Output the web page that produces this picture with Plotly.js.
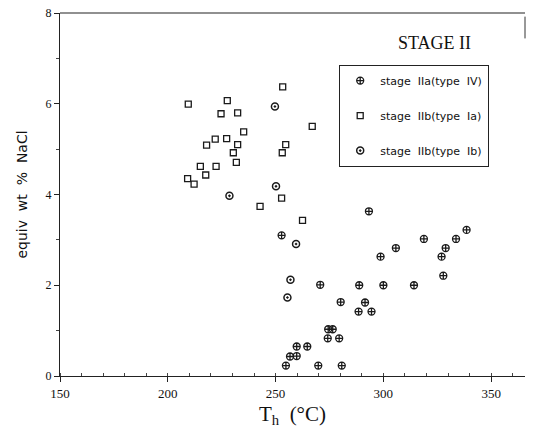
<!DOCTYPE html>
<html><head><meta charset="utf-8">
<script src="https://cdn.plot.ly/plotly-3.0.1.min.js"></script>
<style>body{margin:0;background:#fff}#c{width:535px;height:428px}</style>
</head><body><div id="c"></div>
<script>
// stage IIa (type IV)
const ivX = [252.8, 293.3, 338.6, 318.8, 333.7, 305.8, 328.9, 298.7, 327.0, 327.8, 270.7, 288.8, 300.0, 314.2, 280.2, 288.5, 291.5, 294.5, 274.4, 276.5, 274.2, 279.5, 259.8, 264.7, 256.7, 259.8, 254.8, 269.8, 280.7];
const ivY = [3.10, 3.63, 3.22, 3.02, 3.02, 2.82, 2.82, 2.63, 2.63, 2.21, 2.01, 2.00, 2.00, 2.00, 1.63, 1.42, 1.62, 1.42, 1.03, 1.03, 0.83, 0.83, 0.65, 0.65, 0.43, 0.44, 0.23, 0.23, 0.23];
// stage IIb (type Ia)
const iaX = [253.3, 227.6, 209.5, 224.7, 232.4, 267.0, 235.2, 222.0, 227.3, 218.0, 232.4, 254.7, 230.4, 253.1, 231.8, 215.1, 222.4, 217.6, 209.2, 212.2, 252.8, 242.8, 262.5];
const iaY = [6.37, 6.07, 5.99, 5.78, 5.80, 5.50, 5.38, 5.22, 5.23, 5.09, 5.10, 5.10, 4.92, 4.92, 4.71, 4.62, 4.62, 4.43, 4.35, 4.23, 3.92, 3.74, 3.43];
// stage IIb (type Ib)
const ibX = [249.7, 250.2, 228.6, 259.5, 256.9, 255.5];
const ibY = [5.94, 4.18, 3.97, 2.91, 2.12, 1.73];

const names = ['stage  IIa(type  IV)', 'stage  IIb(type  Ia)', 'stage  IIb(type  Ib)'];
const ink = '#1a1a1a';

const traces = [
  {x: ivX, y: ivY, name: names[0], legendgroup: 'a', mode: 'markers', type: 'scatter',
   marker: {symbol: 'circle-cross-open', size: 7, color: ink, line: {width: 1.3, color: ink}}},
  {x: iaX, y: iaY, name: names[1], legendgroup: 'b', mode: 'markers', type: 'scatter',
   marker: {symbol: 'square-open', size: 6, color: ink, line: {width: 1.3, color: ink}}},
  {x: ibX, y: ibY, name: names[2], legendgroup: 'c', mode: 'markers', type: 'scatter',
   marker: {symbol: 'circle-dot', size: 7, color: 'rgba(0,0,0,0)', line: {width: 1.5, color: ink}}}
];

const layout = {
  width: 535, height: 428,
  margin: {l: 60, r: 10, t: 13, b: 52},
  paper_bgcolor: '#fff', plot_bgcolor: '#fff',
  showlegend: true,
  legend: {x: 0.6, y: 0.857, xanchor: 'left', yanchor: 'top',
    bordercolor: '#222', borderwidth: 1.2, bgcolor: '#fff',
    font: {family: 'DejaVu Sans, sans-serif', size: 11, color: '#111'},
    tracegroupgap: 16, traceorder: 'grouped', itemwidth: 30},
  xaxis: {range: [150, 365.7], tickvals: [150, 200, 250, 300, 350],
    showgrid: false, zeroline: false, showline: true, linecolor: '#222', linewidth: 1.2,
    mirror: false, ticks: 'outside', ticklen: 5, tickcolor: '#222',
    minor: {dtick: 10, tick0: 150, ticks: 'inside', ticklen: 3, tickcolor: '#444', showgrid: false},
    tickfont: {family: 'Liberation Serif, serif', size: 13, color: '#111'},
    title: {text: 'T<sub>h</sub>  (°C)', standoff: 8,
      font: {family: 'Liberation Serif, serif', size: 21, color: '#111'}}},
  yaxis: {range: [0, 8], tickvals: [0, 2, 4, 6, 8],
    showgrid: false, zeroline: false, showline: true, linecolor: '#222', linewidth: 1.2,
    mirror: false, ticks: 'outside', ticklen: 5, tickcolor: '#222',
    minor: {dtick: 1, tick0: 0, ticks: 'outside', ticklen: 3, tickcolor: '#444', showgrid: false},
    tickfont: {family: 'Liberation Serif, serif', size: 12, color: '#111'},
    title: {text: 'equiv  wt  %  NaCl', standoff: 14,
      font: {family: 'DejaVu Sans, sans-serif', size: 14, color: '#111'}}},
  shapes: [
    {type: 'line', xref: 'paper', yref: 'paper', x0: 0, x1: 1, y0: 1, y1: 1,
     line: {color: '#222', width: 1.2}},
    {type: 'line', xref: 'paper', yref: 'paper', x0: 1, x1: 1, y0: 0.93, y1: 0.99,
     line: {color: '#333', width: 1}}
  ],
  annotations: [{text: 'STAGE II', xref: 'paper', yref: 'paper', x: 0.806, y: 0.884,
    xanchor: 'center', yanchor: 'bottom', showarrow: false,
    font: {family: 'Liberation Serif, serif', size: 18, color: '#111'}}]
};

Plotly.newPlot('c', traces, layout, {displayModeBar: false, staticPlot: true});
</script></body></html>
